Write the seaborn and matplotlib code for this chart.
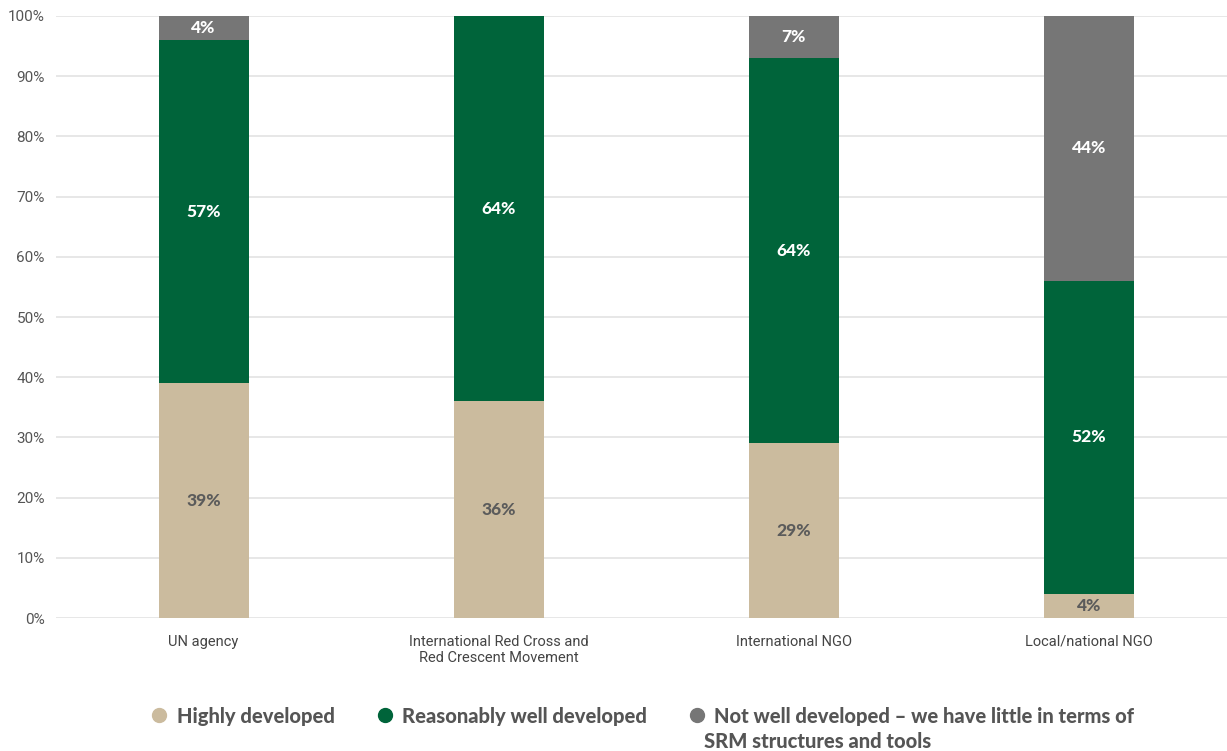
import numpy as np
import pandas as pd
import seaborn as sns
import matplotlib.pyplot as plt
from matplotlib.lines import Line2D

# chart data
categories = ["UN agency", "International Red Cross and\nRed Crescent Movement",
              "International NGO", "Local/national NGO"]
highly = [39, 36, 29, 4]
reasonably = [57, 64, 64, 52]
not_well = [4, 0, 7, 44]
series_names = ["Highly developed", "Reasonably well developed",
                "Not well developed – we have little in terms of"]

colors = ["#cbbb9e", "#00643a", "#767676"]

sns.set_theme(style="white")
plt.rcParams['font.family'] = ['Roboto', 'DejaVu Sans']

df = pd.DataFrame({"cat": categories, "high": highly, "reas": reasonably, "notw": not_well})
df["c1"] = df["high"]
df["c2"] = df["high"] + df["reas"]
df["c3"] = df["c2"] + df["notw"]

fig = plt.figure(figsize=(12.27, 7.51), dpi=100)
ax = fig.add_axes([0.0456, 0.177, 0.9544, 0.8017])
ax.set_axisbelow(True)
ax.yaxis.grid(True, color="#e3e3e3", linewidth=1.2)

# draw cumulative bars from back to front
for col, c in [("c3", colors[2]), ("c2", colors[1]), ("c1", colors[0])]:
    sns.barplot(data=df, x="cat", y=col, color=c, saturation=1, width=0.305,
                ax=ax, edgecolor="none", linewidth=0)

for i in range(len(categories)):
    segs = [(0, highly[i], "#5b5b5b"),
            (highly[i], highly[i] + reasonably[i], "white"),
            (highly[i] + reasonably[i], 100, "white")]
    vals = [highly[i], reasonably[i], not_well[i]]
    for (lo, hi, tc), v in zip(segs, vals):
        if v <= 0:
            continue
        ax.text(i, (lo + hi) / 2, f"{v}%", ha="center", va="center",
                color=tc, fontsize=12.5, fontweight="black", family=["Lato", "DejaVu Sans"])

ax.set_ylim(0, 100)
ax.set_xlim(-0.5, 3.468)
ax.set_yticks(np.arange(0, 101, 10))
ax.set_yticklabels([f"{t}%" for t in range(0, 101, 10)])
ax.tick_params(axis="y", colors="#555555", labelsize=11, length=0, pad=8)
ax.tick_params(axis="x", colors="#444444", labelsize=10.5, length=0, pad=12)
ax.set_xlabel("")
ax.set_ylabel("")
for s in ax.spines.values():
    s.set_visible(False)

handles = [Line2D([], [], marker="o", linestyle="none", markersize=10,
                  markerfacecolor=c, markeredgecolor=c) for c in colors]
leg = fig.legend(handles, series_names, loc="center left", ncol=3,
                 bbox_to_anchor=(0.1135, 0.0466), frameon=False, handletextpad=0.35,
                 columnspacing=2.0, handlelength=1.0, borderpad=0,
                 prop={"family": "Lato", "weight": "black", "size": 14.5})
for t in leg.get_texts():
    t.set_color("#555555")
fig.text(0.5737, 0.0133, "SRM structures and tools", color="#555555",
         fontsize=14.5, fontweight="black", family=["Lato", "DejaVu Sans"], va="center")

fig.savefig("out.png", dpi=100)
